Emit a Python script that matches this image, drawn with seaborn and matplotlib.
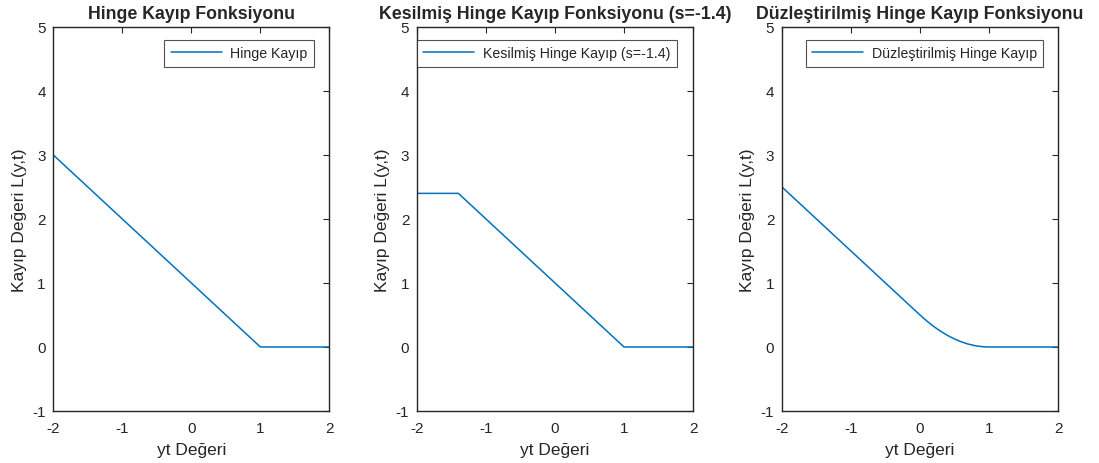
import matplotlib
matplotlib.use("Agg")
import matplotlib.pyplot as plt
import seaborn as sns
import pandas as pd

# Hinge loss: breakpoints of the piecewise-linear curve
hinge_x = [-2.0, 1.0, 2.0]
hinge_y = [3.0, 0.0, 0.0]

# Truncated hinge loss (s = -1.4)
trunc_x = [-2.0, -1.4, 1.0, 2.0]
trunc_y = [2.4, 2.4, 0.0, 0.0]

# Smoothed hinge loss, sampled along the curve
smooth_x = [-2.0, -1.5, -1.0, -0.5, 0.0, 0.1, 0.2, 0.3, 0.4, 0.5,
            0.6, 0.7, 0.8, 0.9, 1.0, 1.5, 2.0]
smooth_y = [2.5, 2.0, 1.5, 1.0, 0.5, 0.405, 0.32, 0.245, 0.18, 0.125,
            0.08, 0.045, 0.02, 0.005, 0.0, 0.0, 0.0]

titles = ["Hinge Kayıp Fonksiyonu",
          "Kesilmiş Hinge Kayıp Fonksiyonu (s=-1.4)",
          "Düzleştirilmiş Hinge Kayıp Fonksiyonu"]
labels = ["Hinge Kayıp",
          "Kesilmiş Hinge Kayıp (s=-1.4)",
          "Düzleştirilmiş Hinge Kayıp"]
x_ticks = [-2, -1, 0, 1, 2]
y_ticks = [-1, 0, 1, 2, 3, 4, 5]

sns.set_style("white")
plt.rcParams["font.family"] = ["Liberation Sans", "DejaVu Sans"]
plt.rcParams["axes.linewidth"] = 0.8

fig = plt.figure(figsize=(10.99, 4.64), dpi=100)
lefts = [0.0485, 0.3794, 0.7115]
width = 0.2512
bottom = 0.1121
height = 0.8276

series = [(hinge_x, hinge_y), (trunc_x, trunc_y), (smooth_x, smooth_y)]
legend_locs = ["upper right", "upper left", "upper right"]
legend_anchor = [(0.943, 0.966), (0.0, 0.966), (0.946, 0.966)]

for i, ((xs, ys), title, lab) in enumerate(zip(series, titles, labels)):
    ax = fig.add_axes([lefts[i], bottom, width, height])
    df = pd.DataFrame({"x": xs, "y": ys})
    sns.lineplot(data=df, x="x", y="y", ax=ax, color="#0072BD",
                 linewidth=1.1, label=lab, sort=False)
    ax.set_xlim(-2, 2)
    ax.set_ylim(-1, 5)
    ax.set_xticks(x_ticks)
    ax.set_yticks(y_ticks)
    ax.set_xticklabels([str(t) for t in x_ticks])
    ax.set_yticklabels([str(t) for t in y_ticks])
    ax.tick_params(direction="in", top=True, right=True, length=4,
                   width=0.8, labelsize=11, colors="#262626")
    ax.tick_params(axis="x", pad=7)
    ax.tick_params(axis="y", pad=5.5)
    for sp in ax.spines.values():
        sp.set_visible(True)
        sp.set_color("#262626")
        sp.set_linewidth(1.0)
    ax.set_title(title, fontsize=12.75, fontweight="bold", pad=6.5)
    ax.set_xlabel("yt Değeri", fontsize=12.5, color="#262626", labelpad=5)
    ax.set_ylabel("Kayıp Değeri L(y,t)", fontsize=12.5, color="#262626",
                  labelpad=4)
    leg = ax.legend(loc=legend_locs[i], bbox_to_anchor=legend_anchor[i],
                    fontsize=10.2, frameon=True, fancybox=False,
                    handlelength=3.6, borderpad=0.45, handletextpad=0.6,
                    borderaxespad=0.0)
    leg.get_frame().set_edgecolor("#262626")
    leg.get_frame().set_linewidth(0.8)

fig.savefig("out.png", dpi=100, facecolor="white")
